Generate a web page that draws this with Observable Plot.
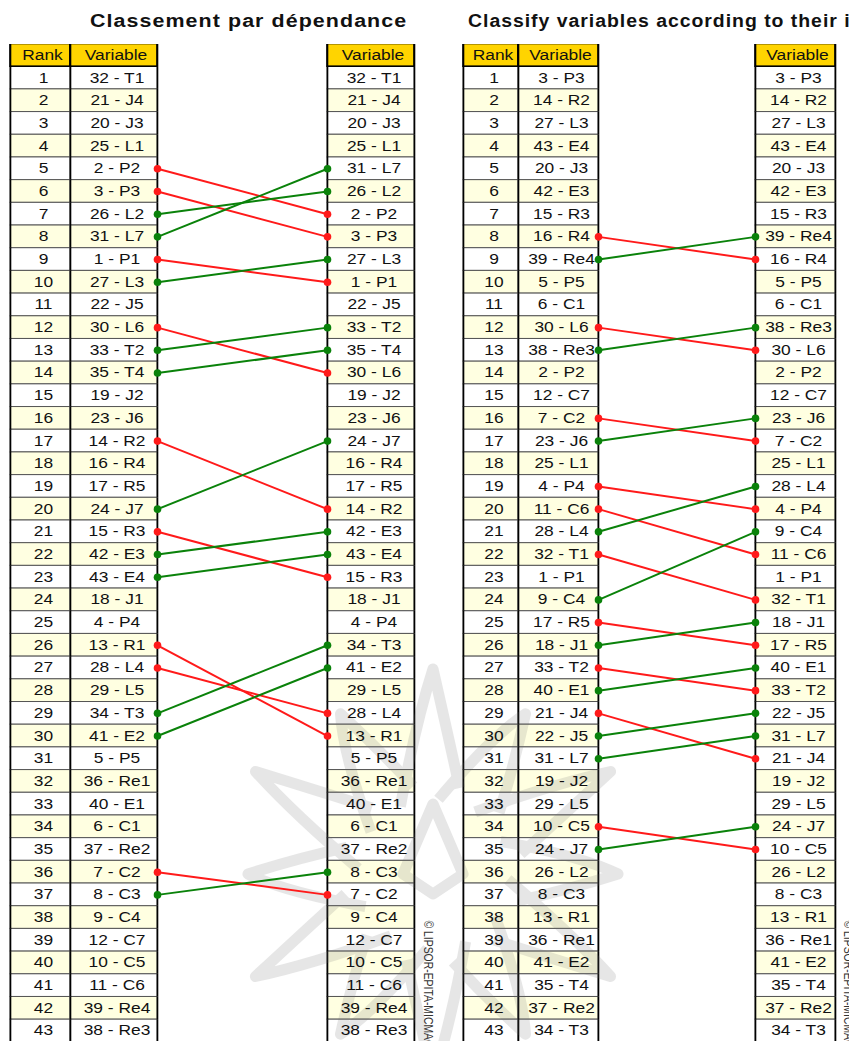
<!DOCTYPE html>
<html><head><meta charset="utf-8">
<script src="https://cdn.jsdelivr.net/npm/d3@7"></script>
<script src="https://cdn.jsdelivr.net/npm/@observablehq/plot@0.6"></script>
<style>
body{margin:0;background:#fff;width:849px;height:1041px;overflow:hidden;font-family:"Liberation Sans",Arial,sans-serif;}
#head{position:relative;height:44px;}
.title{position:absolute;top:11px;font-weight:bold;font-size:18px;letter-spacing:0.9px;white-space:nowrap;transform-origin:left center;color:#111;}
#chart svg{display:block;}
</style></head><body>
<div id="head"><div class="title" id="t1" style="left:90px;transform:scaleX(1.19)"></div><div class="title" id="t2" style="left:468px;transform:scaleX(1.08)"></div></div>
<div id="chart"></div>
<script>
// ---- data ----
const ranks = d3.range(1, 44);
const headerRank = "Rank";
const headerVar = "Variable";
const titles = ["Classement par dépendance", "Classify variables according to their influence"];
const copyright = "© LIPSOR-EPITA-MICMAC";

const depBefore = ["32 - T1","21 - J4","20 - J3","25 - L1","2 - P2","3 - P3","26 - L2","31 - L7","1 - P1","27 - L3",
  "22 - J5","30 - L6","33 - T2","35 - T4","19 - J2","23 - J6","14 - R2","16 - R4","17 - R5","24 - J7",
  "15 - R3","42 - E3","43 - E4","18 - J1","4 - P4","13 - R1","28 - L4","29 - L5","34 - T3","41 - E2",
  "5 - P5","36 - Re1","40 - E1","6 - C1","37 - Re2","7 - C2","8 - C3","9 - C4","12 - C7","10 - C5",
  "11 - C6","39 - Re4","38 - Re3"];
const depAfter = ["32 - T1","21 - J4","20 - J3","25 - L1","31 - L7","26 - L2","2 - P2","3 - P3","27 - L3","1 - P1",
  "22 - J5","33 - T2","35 - T4","30 - L6","19 - J2","23 - J6","24 - J7","16 - R4","17 - R5","14 - R2",
  "42 - E3","43 - E4","15 - R3","18 - J1","4 - P4","34 - T3","41 - E2","29 - L5","28 - L4","13 - R1",
  "5 - P5","36 - Re1","40 - E1","6 - C1","37 - Re2","8 - C3","7 - C2","9 - C4","12 - C7","10 - C5",
  "11 - C6","39 - Re4","38 - Re3"];
const inflBefore = ["3 - P3","14 - R2","27 - L3","43 - E4","20 - J3","42 - E3","15 - R3","16 - R4","39 - Re4","5 - P5",
  "6 - C1","30 - L6","38 - Re3","2 - P2","12 - C7","7 - C2","23 - J6","25 - L1","4 - P4","11 - C6",
  "28 - L4","32 - T1","1 - P1","9 - C4","17 - R5","18 - J1","33 - T2","40 - E1","21 - J4","22 - J5",
  "31 - L7","19 - J2","29 - L5","10 - C5","24 - J7","26 - L2","8 - C3","13 - R1","36 - Re1","41 - E2",
  "35 - T4","37 - Re2","34 - T3"];
const inflAfter = ["3 - P3","14 - R2","27 - L3","43 - E4","20 - J3","42 - E3","15 - R3","39 - Re4","16 - R4","5 - P5",
  "6 - C1","38 - Re3","30 - L6","2 - P2","12 - C7","23 - J6","7 - C2","25 - L1","28 - L4","4 - P4",
  "9 - C4","11 - C6","1 - P1","32 - T1","18 - J1","17 - R5","40 - E1","33 - T2","22 - J5","31 - L7",
  "21 - J4","19 - J2","29 - L5","24 - J7","10 - C5","26 - L2","8 - C3","13 - R1","36 - Re1","41 - E2",
  "35 - T4","37 - Re2","34 - T3"];

document.getElementById("t1").textContent = titles[0];
document.getElementById("t2").textContent = titles[1];

// ---- layout / style ----
const panels = [
  {before: depBefore, after: depAfter, c: [10, 70, 157, 327, 414], wm: 423.5},
  {before: inflBefore, after: inflAfter, c: [463, 518, 598, 755, 835], wm: 843}
];
const GOLD = "#FFD400", PALE = "#FFFFE1", WHITE = "#FFFFFF";
const RED = "#FF1A1A", GREEN = "#0A820A";

const rowKeys = ["H", ...ranks.map(String)];
const headCells = [], bodyCells = [], vlines = [], links = [], ends = [];
for (const p of panels) {
  const [a, b, c, d, e] = p.c;
  headCells.push({x1: a, x2: b, row: "H", text: headerRank},
                 {x1: b, x2: c, row: "H", text: headerVar},
                 {x1: d, x2: e, row: "H", text: headerVar});
  ranks.forEach((r, i) => {
    const fill = r % 2 === 0 ? PALE : WHITE;
    bodyCells.push({x1: a, x2: b, row: String(r), text: String(r), fill},
                   {x1: b, x2: c, row: String(r), text: p.before[i], fill},
                   {x1: d, x2: e, row: String(r), text: p.after[i], fill});
  });
  for (const k of rowKeys) for (const x of [a, b, c, d, e]) vlines.push({x, row: k});
  p.before.forEach((v, i) => {
    const j = p.after.indexOf(v);
    if (j !== i) {
      const color = j > i ? RED : GREEN;
      links.push({xa: c, xb: d, ya: String(i + 1), yb: String(j + 1), color});
      ends.push({x: c, row: String(i + 1), color}, {x: d, row: String(j + 1), color});
    }
  });
}

const H = 1041 - 44;
// faint decorative watermark (ornament behind the bottom of the tables)
const watermarkLogo = () => {
  const g = d3.create("svg:g").attr("opacity", 0.17).attr("fill", "none").attr("stroke", "#6f6f6f")
    .attr("stroke-width", 11).attr("stroke-linejoin", "round");
  const cx = 433, cy = 830;
  const P = (ang, rad) => [cx + rad * Math.cos(ang), cy + rad * Math.sin(ang)];
  for (let k = 0; k < 12; k++) {
    const a = -Math.PI / 2 + k * Math.PI / 6;
    const R = k % 2 === 0 ? 205 : 185;
    const tip = P(a, R);
    const l = P(a - 0.45, 75), rr = P(a + 0.3, 90);
    const m1 = P(a - 0.12, 150), m2 = P(a + 0.12, 135);
    g.append("path").attr("d", `M${l}Q${m1} ${tip}Q${m2} ${rr}`);
  }
  g.append("path").attr("d", `M${P(-Math.PI/2, 70)}L${P(0, 30)}L${P(Math.PI/2, 20)}L${P(Math.PI, 30)}Z`);
  return g.node();
};

const chart = Plot.plot({
  width: 849,
  height: H,
  margin: 0,
  x: {domain: [0, 849], range: [0, 849], axis: null},
  y: {type: "band", domain: rowKeys, range: [-0.5, 44 * 22.69 - 0.5], padding: 0, axis: null},
  color: {type: "identity"},
  style: {fontFamily: "'Liberation Sans', Arial, sans-serif", fontSize: "14px", background: "transparent"},
  marks: [
    Plot.barX(bodyCells, {x1: "x1", x2: "x2", y: "row", fill: "fill", stroke: "#555", strokeWidth: 1}),
    Plot.barX(headCells, {x1: "x1", x2: "x2", y: "row", fill: GOLD, stroke: "#000", strokeWidth: 1.6}),
    Plot.tickX(vlines, {x: "x", y: "row", stroke: "#000", strokeWidth: 1.6}),
    watermarkLogo,
    Plot.text(headCells, {x: d => (d.x1 + d.x2) / 2, y: "row", text: "text", dx: 2, fill: "#111"}),
    Plot.text(bodyCells, {x: d => (d.x1 + d.x2) / 2, y: "row", text: "text", dx: 3, fill: "#111"}),
    Plot.link(links, {x1: "xa", x2: "xb", y1: "ya", y2: "yb", stroke: "color", strokeWidth: 2}),
    Plot.dot(ends, {x: "x", y: "row", fill: "color", r: 3.8}),
    Plot.text(panels, {x: "wm", text: () => copyright, frameAnchor: "bottom", rotate: 90, textAnchor: "end",
      dy: 6, fontSize: 12, fill: "#333"})
  ]
});
document.getElementById("chart").append(chart);
chart.querySelectorAll("text").forEach(t => {
  if (t.textContent.startsWith("©")) {
    t.setAttribute("textLength", "127");
  } else {
    const L = t.getComputedTextLength();
    t.setAttribute("textLength", (L * 1.24).toFixed(1));
  }
  t.setAttribute("lengthAdjust", "spacingAndGlyphs");
});
</script>
</body></html>
